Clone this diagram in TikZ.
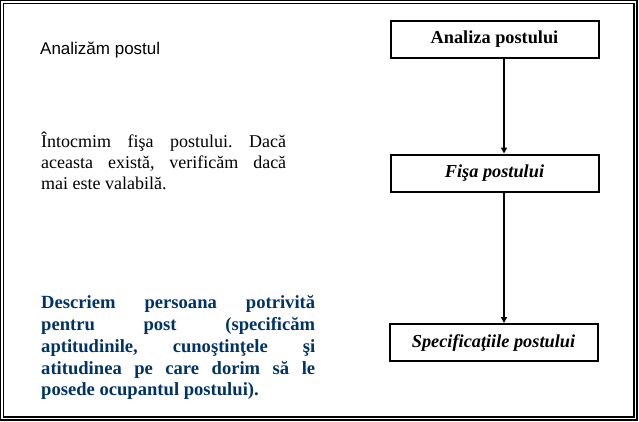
\documentclass[tikz,border=0pt]{standalone}
\usepackage{fontspec}
\setmainfont{Liberation Serif}
\newfontfamily\arialfont{Liberation Sans}
\usetikzlibrary{arrows.meta}
\definecolor{navy}{RGB}{0,51,102}
\frenchspacing
\tikzset{
  stepbox/.style={draw=black, line width=2pt, minimum width=208pt, minimum height=37pt, inner sep=0pt, font=\fontsize{18.3}{20}\selectfont\bfseries},
  flow/.style={line width=1.6pt, -{Triangle[length=6pt,width=6pt]}},
  para/.style={anchor=north west, inner sep=0pt, align=justify},
}
\begin{document}
\begin{tikzpicture}[x=1pt,y=-1pt]
\useasboundingbox (0,0) rectangle (639,421);
% double frame
\draw[line width=1.3pt] (0.8,0.8) rectangle (637,420);
\draw[line width=1.3pt] (3.8,3.8) rectangle (634,417);
% boxes
\node[stepbox] (a) at (494.5,39.5) {Analiza postului};
\node[stepbox] (b) at (494.5,173) {\itshape Fişa postului};
\node[stepbox] (c) at (493.5,342.5) {\itshape Specificaţiile postului};
\draw[flow] (a.south -| 504,0) -- (b.north -| 504,0);
\draw[flow] (b.south -| 504,0) -- (c.north -| 504,0);
% left texts
\node[anchor=base west, inner sep=0pt, font=\arialfont\fontsize{17}{20}\selectfont] (t1) at (40,54) {Analizăm postul};
\node[para, text width=245pt, font=\fontsize{18}{20.7}\selectfont] (t2) at (41,132) {\hyphenpenalty=10000\tolerance=10000 Întocmim fişa postului. Dacă\linebreak aceasta există, verificăm dacă\linebreak mai este valabilă.};
\node[para, text width=274pt, text=navy, font=\bfseries\fontsize{18.6}{21.9}\selectfont] (t3) at (41,295) {\hyphenpenalty=10000\tolerance=10000 Descriem persoana potrivită\linebreak pentru post (specificăm\linebreak aptitudinile, cunoştinţele şi\linebreak atitudinea pe care dorim să le\linebreak posede ocupantul postului).};
\end{tikzpicture}
\end{document}
